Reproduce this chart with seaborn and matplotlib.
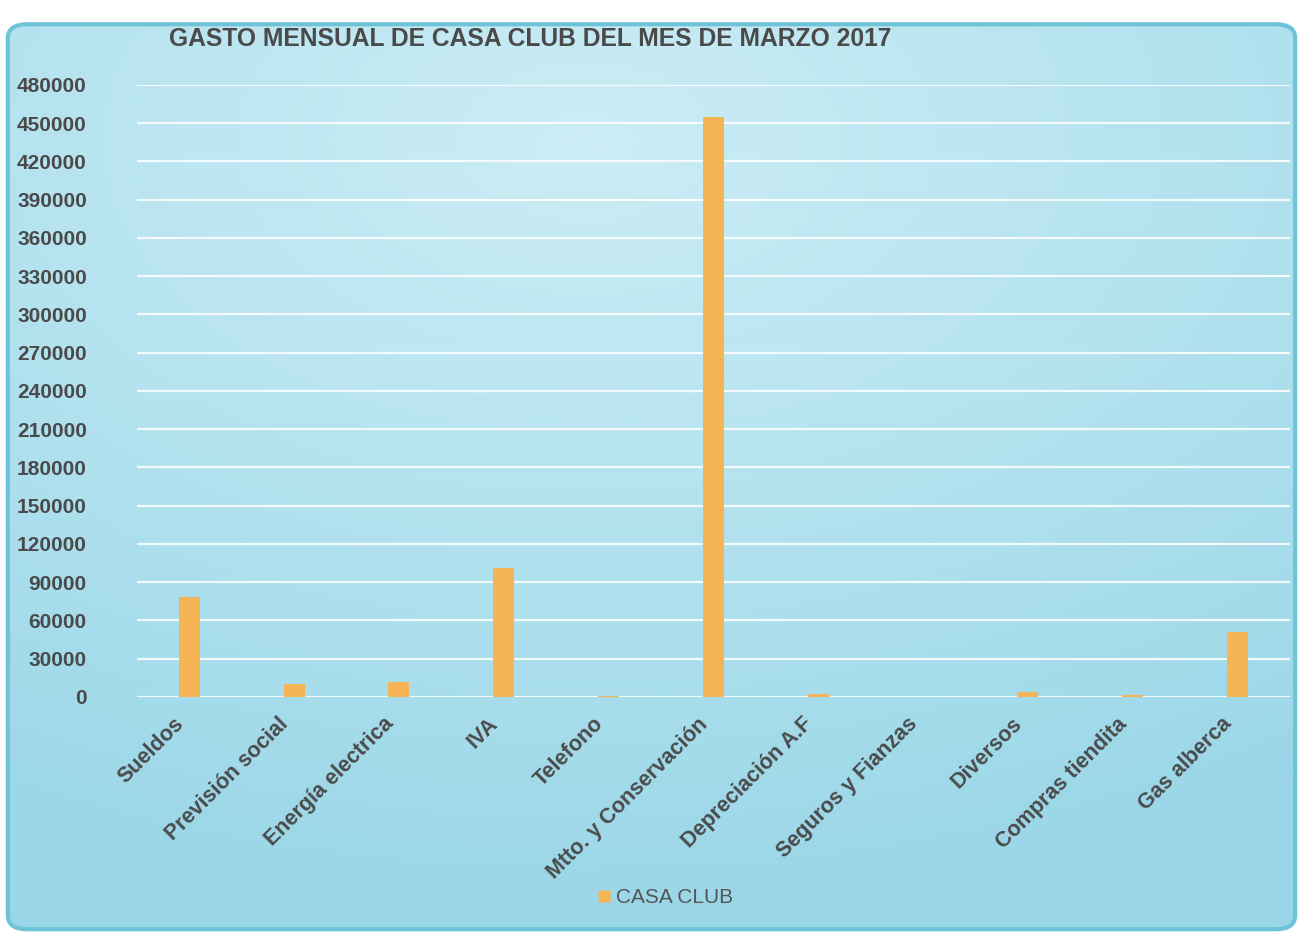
import numpy as np
import pandas as pd
import matplotlib.pyplot as plt
import matplotlib.transforms as mtransforms
import seaborn as sns
from matplotlib.patches import FancyBboxPatch
from matplotlib.lines import Line2D

# Data
categorias = ['Sueldos', 'Previsión social', 'Energía electrica', 'IVA', 'Telefono',
              'Mtto. y Conservación', 'Depreciación A.F', 'Seguros y Fianzas',
              'Diversos', 'Compras tiendita', 'Gas alberca']
gastos = [78000, 10000, 12000, 101000, 1000, 455000, 2500, 0, 4000, 1500, 51000]
y_ticks = list(range(0, 480001, 30000))
serie = 'CASA CLUB'

sns.set_theme(style='white')
plt.rcParams['font.family'] = ['Liberation Sans', 'DejaVu Sans']

df = pd.DataFrame({'categoria': categorias, 'gasto': gastos})

fig = plt.figure(figsize=(13.03, 9.33), dpi=100)
fig.patch.set_facecolor('white')

# Rounded blue panel with a soft gradient, like the Excel chart area
bg = fig.add_axes([0, 0, 1, 1], zorder=-1)
bg.set_axis_off()
bg.set_xlim(0, 1)
bg.set_ylim(0, 1)
gx, gy = np.meshgrid(np.linspace(0, 1, 300), np.linspace(0, 1, 300))
d = np.sqrt(((gx - 0.45) * 1.1) ** 2 + ((gy - 0.85) * 1.3) ** 2)
d = np.clip(d / 1.1, 0, 1)
c_light = np.array([0.80, 0.93, 0.96])
c_dark = np.array([0.60, 0.84, 0.91])
img = c_light[None, None, :] * (1 - d[..., None]) + c_dark[None, None, :] * d[..., None]
panel = FancyBboxPatch((0.006, 0.004), 0.988, 0.97,
                       boxstyle='round,pad=0,rounding_size=0.015',
                       transform=bg.transAxes, facecolor='none',
                       edgecolor='#6fc3d8', linewidth=3)
im = bg.imshow(img, extent=[0, 1, 0, 1], origin='lower', aspect='auto')
im.set_clip_path(panel)
bg.add_patch(panel)

ax = fig.add_axes([0.105, 0.253, 0.885, 0.656])
ax.set_facecolor('none')
sns.barplot(data=df, x='categoria', y='gasto', color='#f5b555', width=0.2,
            saturation=1, linewidth=0, ax=ax, zorder=3)

ax.set_ylim(0, 480000)
ax.set_yticks(y_ticks)
ax.set_yticklabels([str(t) for t in y_ticks], fontsize=15, fontweight='bold',
                   color='#4a4a4a')
ax.set_xticks(range(len(categorias)))
ax.set_xticklabels(categorias, rotation=45, ha='right', rotation_mode='anchor',
                   fontsize=15.5, fontweight='bold', color='#4a4a4a')
ax.tick_params(axis='x', length=0, pad=12)
ax.tick_params(axis='y', length=0, pad=36)
# labels in the original sit a bit left of their bars
shift = mtransforms.ScaledTranslation(-16 / 100, 0, fig.dpi_scale_trans)
for lbl in ax.get_xticklabels():
    lbl.set_transform(lbl.get_transform() + shift)
ax.set_xlabel('')
ax.set_ylabel('')
ax.yaxis.grid(True, color='white', linewidth=1.6, alpha=0.85, zorder=0)
ax.set_axisbelow(True)
for s in ax.spines.values():
    s.set_visible(False)

fig.text(0.13, 0.958, 'GASTO MENSUAL DE CASA CLUB DEL MES DE MARZO 2017',
         fontsize=17.7, fontweight='bold', color='#4a4a4a', va='center')

handle = Line2D([], [], marker='s', linestyle='none', markersize=8,
                markerfacecolor='#f5b555', markeredgecolor='none')
fig.legend(handles=[handle], labels=[serie], loc='center', bbox_to_anchor=(0.51, 0.038),
           frameon=False, fontsize=15, handlelength=0.8, handletextpad=0.2,
           labelcolor='#555555')

fig.savefig('out.png', dpi=100)
